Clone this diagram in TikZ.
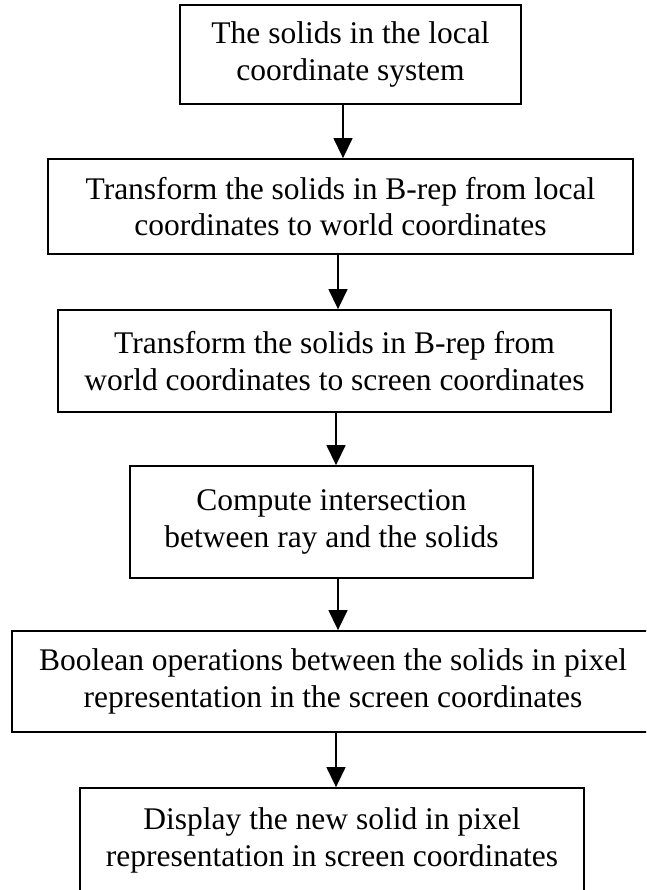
\documentclass[tikz,border=0pt]{standalone}
\usepackage{fontspec}
\setmainfont{Liberation Serif}
\usetikzlibrary{arrows.meta}

\tikzset{
  stagebox/.style={draw=black, line width=1.8pt, inner sep=0pt, align=center,
    font=\fontsize{31.5}{36.7}\selectfont},
  flowarrow/.style={line width=1.4pt, -{Triangle[width=19pt,length=20pt]}}
}

\begin{document}
\begin{tikzpicture}[x=1pt,y=-1pt]
  \clip (0,0) rectangle (646,890);
  \fill[white] (0,0) rectangle (646,890);

  % processing stages, top to bottom
  \node[stagebox, minimum width=341pt, minimum height=99pt] (local) at (350.5,54.5)
    {The solids in the local\\coordinate system};
  \node[stagebox, minimum width=585pt, minimum height=95pt] (toworld) at (340.5,206.5)
    {Transform the solids in B-rep from local\\coordinates to world coordinates};
  \node[stagebox, minimum width=553pt, minimum height=102pt] (toscreen) at (334.5,361)
    {Transform the solids in B-rep from\\world coordinates to screen coordinates};
  \node[stagebox, minimum width=403pt, minimum height=112pt] (intersect) at (331.5,522)
    {Compute intersection\\between ray and the solids};
  \node[stagebox, minimum width=642pt, minimum height=101pt] (boolean) at (333,681.5)
    {Boolean operations between the solids in pixel\\representation in the screen coordinates};
  \node[stagebox, minimum width=504pt, minimum height=105pt] (display) at (332,840.5)
    {Display the new solid in pixel\\representation in screen coordinates};

  % connectors between consecutive stages
  \draw[flowarrow] ([xshift=-7.5pt]local.south) -- ([xshift=-7.5pt]local.south |- toworld.north);
  \draw[flowarrow] ([xshift=-2.5pt]toworld.south) -- ([xshift=-2.5pt]toworld.south |- toscreen.north);
  \draw[flowarrow] ([xshift=1.5pt]toscreen.south) -- ([xshift=1.5pt]toscreen.south |- intersect.north);
  \draw[flowarrow] ([xshift=6.5pt]intersect.south) -- ([xshift=6.5pt]intersect.south |- boolean.north);
  \draw[flowarrow] ([xshift=3pt]boolean.south) -- ([xshift=3pt]boolean.south |- display.north);
\end{tikzpicture}
\end{document}
